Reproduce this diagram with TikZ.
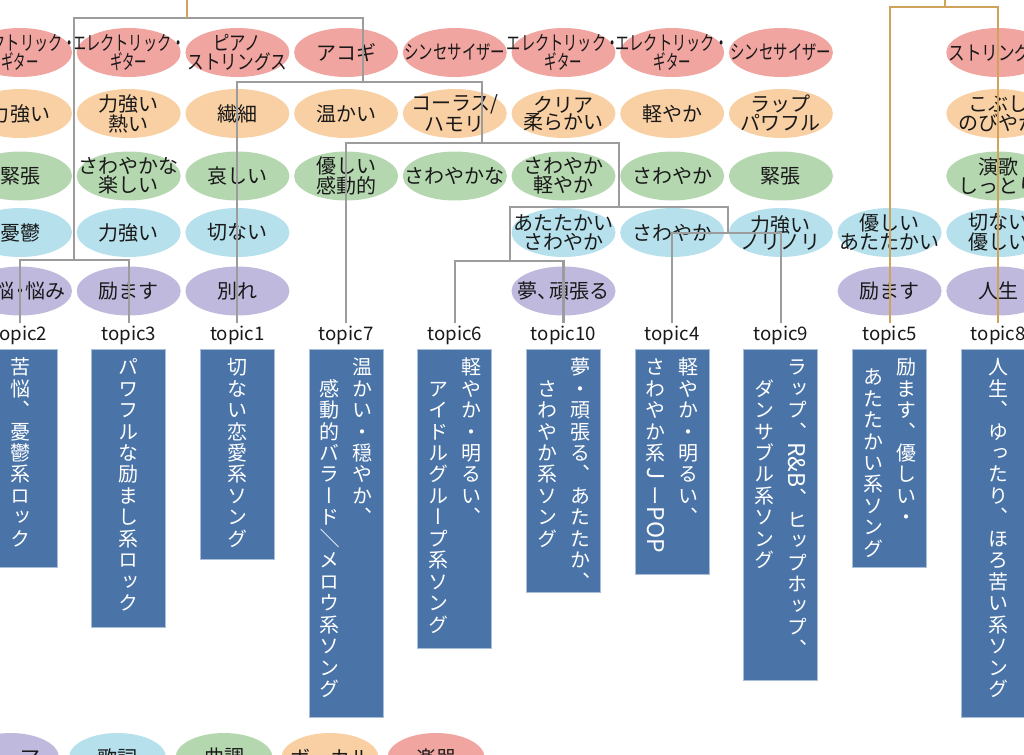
\documentclass[tikz,border=0pt]{standalone}
\usepackage{fontspec}
\usepackage{graphicx}
\setmainfont{Noto Sans CJK JP}
\newfontfamily\vfont[RawFeature=+vert]{Noto Sans CJK JP}
\usetikzlibrary{shapes.geometric}

\definecolor{cRed}{HTML}{F1A5A0}
\definecolor{cOra}{HTML}{F9D0A3}
\definecolor{cGrn}{HTML}{B4D7AF}
\definecolor{cBlu}{HTML}{B5E0EC}
\definecolor{cPur}{HTML}{BEB9DD}
\definecolor{cBox}{HTML}{4A74A8}
\definecolor{cBoxLine}{HTML}{A9BFD9}
\definecolor{cGray}{HTML}{9C9C9C}
\definecolor{cGold}{HTML}{CFA35C}

\makeatletter
\def\vt@end{\vt@end}
\def\vt@loop#1{\ifx\vt@end#1\else\vt@item{#1}\expandafter\vt@loop\fi}
\newcommand\vt@item[1]{\hbox to 16pt{\hss\vrule width0pt height13.75pt depth2.35pt\relax#1\hss}}
\newcommand\vcolumn[2][0pt]{\vtop{\offinterlineskip\hbox{\vrule width0pt height0pt depth0pt}\kern#1\relax\vt@loop#2\vt@end}}
\makeatother
\newcommand\rl[1]{\rotatebox[origin=c]{-90}{\scalebox{1.15}{#1}}}
\newcommand\rs[1]{\rotatebox[origin=c]{-90}{\normalfont #1}}
\newcommand\cz[2][0.72]{\scalebox{#1}[1]{#2}}
\newcommand\vgap{\hspace{8.75pt}}
\newcommand\E[5][ell]{\node[#1,fill=#2] (#3) at (#4) {}; \node[etx] (#3t) at (#3.center) {#5};}

\begin{document}
\begin{tikzpicture}[x=0.75pt,y=-0.75pt,
  ell/.style={ellipse, minimum width=78pt, minimum height=36.75pt, inner sep=0pt, draw=none},
  legell/.style={ell, minimum width=72.75pt},
  etx/.style={align=center, inner sep=0pt, font=\fontsize{15pt}{12.75pt}\selectfont, text=black!90},
  lab/.style={inner sep=1.5pt, font=\fontsize{14pt}{16pt}\selectfont, text=black!90},
  tbox/.style={rectangle, anchor=north, minimum width=55.5pt, fill=cBox, draw=cBoxLine, line width=0.75pt, inner sep=0pt, outer sep=0pt},
  vtx/.style={anchor=north, inner sep=0pt, text=white, font=\vfont\fontsize{15pt}{16pt}\selectfont},
  gl/.style={draw=cGray, line width=1.6pt},
  gd/.style={draw=cGold, line width=1.6pt}]
\useasboundingbox (0,0) rectangle (1024,754);
\clip (0,0) rectangle (1024,754);

% row 1 : instruments
\E{cRed}{a0}{20,52.5}{\cz[0.71]{エレクトリック・}\\\cz[0.62]{ギター}}
\E{cRed}{a1}{128.7,52.5}{\cz[0.71]{エレクトリック・}\\\cz[0.62]{ギター}}
\E{cRed}{a2}{237.4,52.5}{\cz[0.82]{ピアノ}\\\cz[0.83]{ストリングス}}
\E{cRed}{a3}{346.1,52.5}{アコギ}
\E{cRed}{a4}{454.8,52.5}{\cz{シンセサイザー}}
\E{cRed}{a5}{563.5,52.5}{\cz[0.71]{エレクトリック・}\\\cz[0.62]{ギター}}
\E{cRed}{a6}{672.2,52.5}{\cz[0.71]{エレクトリック・}\\\cz[0.62]{ギター}}
\E{cRed}{a7}{780.9,52.5}{\cz{シンセサイザー}}
\E{cRed}{a9}{998.3,52.5}{\cz[0.83]{ストリングス}}

% row 2 : vocals
\E{cOra}{b0}{20,113.5}{力強い}
\E{cOra}{b1}{128.7,113.5}{力強い\\熱い}
\E{cOra}{b2}{237.4,113.5}{繊細}
\E{cOra}{b3}{346.1,113.5}{温かい}
\E{cOra}{b4}{454.8,113.5}{コーラス/\\ハモリ}
\E{cOra}{b5}{563.5,113.5}{クリア\\柔らかい}
\E{cOra}{b6}{672.2,113.5}{軽やか}
\E{cOra}{b7}{780.9,113.5}{ラップ\\パワフル}
\E{cOra}{b9}{998.3,113.5}{こぶし\\のびやか}

% row 3 : tune
\E{cGrn}{g0}{20,176}{緊張}
\E{cGrn}{g1}{128.7,176}{さわやかな\\楽しい}
\E{cGrn}{g2}{237.4,176}{哀しい}
\E{cGrn}{g3}{346.1,176}{優しい\\感動的}
\E{cGrn}{g4}{454.8,176}{さわやかな}
\E{cGrn}{g5}{563.5,176}{さわやか\\軽やか}
\E{cGrn}{g6}{672.2,176}{さわやか}
\E{cGrn}{g7}{780.9,176}{緊張}
\E{cGrn}{g9}{998.3,176}{演歌\\しっとり}

% row 4 : lyrics
\E{cBlu}{l0}{20,232.5}{憂鬱}
\E{cBlu}{l1}{128.7,232.5}{力強い}
\E{cBlu}{l2}{237.4,232.5}{切ない}
\E{cBlu}{l5}{563.5,232.5}{あたたかい\\さわやか}
\E{cBlu}{l6}{672.2,232.5}{さわやか}
\E{cBlu}{l7}{780.9,232.5}{力強い\\ノリノリ}
\E{cBlu}{l8}{889.6,232.5}{優しい\\あたたかい}
\E{cBlu}{l9}{998.3,232.5}{切ない\\優しい}

% row 5 : theme
\E{cPur}{p0}{20,291}{苦悩\kern-0.25em・\kern-0.25em悩み}
\E{cPur}{p1}{128.7,291}{励ます}
\E{cPur}{p2}{237.4,291}{別れ}
\E{cPur}{p5}{563.5,291}{夢、\kern-0.4em頑張る}
\E{cPur}{p8}{889.6,291}{励ます}
\E{cPur}{p9}{998.3,291}{人生}

% topic labels
\node[lab] (t2)  at (20,335)    {topic2};
\node[lab] (t3)  at (128.7,335) {topic3};
\node[lab] (t1)  at (237.4,335) {topic1};
\node[lab] (t7)  at (346.1,335) {topic7};
\node[lab] (t6)  at (454.8,335) {topic6};
\node[lab] (t10) at (563.5,335) {topic10};
\node[lab] (t4)  at (672.2,335) {topic4};
\node[lab] (t9)  at (780.9,335) {topic9};
\node[lab] (t5)  at (889.6,335) {topic5};
\node[lab] (t8)  at (998.3,335) {topic8};

% topic boxes
\node[tbox, minimum height=163.5pt] (x2)  at (20,349)    {};
\node[tbox, minimum height=208.5pt] (x3)  at (128.7,349) {};
\node[tbox, minimum height=157.5pt] (x1)  at (237.4,349) {};
\node[tbox, minimum height=276pt]   (x7)  at (346.1,349) {};
\node[tbox, minimum height=224.25pt](x6)  at (454.8,349) {};
\node[tbox, minimum height=182.25pt](x10) at (563.5,349) {};
\node[tbox, minimum height=168.75pt](x4)  at (672.2,349) {};
\node[tbox, minimum height=248.25pt](x9)  at (780.9,349) {};
\node[tbox, minimum height=163.5pt] (x5)  at (889.6,349) {};
\node[tbox, minimum height=276pt]   (x8)  at (998.3,349) {};

\node[vtx] (v2)  at (20,356)    {\vcolumn{苦悩、憂鬱系ロック}};
\node[vtx] (v3)  at (128.7,356) {\vcolumn{パワフルな励まし系ロック}};
\node[vtx] (v1)  at (237.4,356) {\vcolumn{切ない恋愛系ソング}};
\node[vtx] (v7)  at (346.1,356) {\vcolumn{　感動的バラード{\rs{／}}メロウ系ソング}\vgap\vcolumn{温かい・穏やか、}};
\node[vtx] (v6)  at (454.8,356) {\vcolumn{　アイドルグループ系ソング}\vgap\vcolumn{軽やか・明るい、}};
\node[vtx] (v10) at (563.5,356) {\vcolumn{　さわやか系ソング}\vgap\vcolumn{夢・頑張る、あたたか、}};
\node[vtx] (v4)  at (672.2,356) {\vcolumn{さわやか系{\rl{J}}ー{\rl{POP}}}\vgap\vcolumn{軽やか・明るい、}};
\node[vtx] (v9)  at (780.9,356) {\vcolumn{　ダンサブル系ソング}\vgap\vcolumn{ラップ、{\rl{R\&B}}、ヒップホップ、}};
\node[vtx] (v5)  at (889.6,356) {\vcolumn[7.5pt]{あたたかい系ソング}\vgap\vcolumn{励ます、優しい・}};
\node[vtx] (v8)  at (998.3,356) {\vcolumn{人生、ゆったり、ほろ苦い系ソング}};

% legend (bottom, cut by the frame)
\E[legell]{cPur}{q0}{10.5,757.5}{テーマ}
\E[legell]{cBlu}{q1}{117.5,757.5}{歌詞}
\E[legell]{cGrn}{q2}{224,757.5}{曲調}
\E[legell]{cOra}{q3}{330,757.5}{ボーカル}
\E[legell]{cRed}{q4}{436,757.5}{楽器}

% dendrogram
\coordinate (m23) at (74,260);
\coordinate (mA)  at (187,18);
\coordinate (mB)  at (363,82);
\coordinate (mC)  at (482,143);
\coordinate (mD)  at (619,207);
\coordinate (mE)  at (510,261);
\coordinate (mF)  at (728,233);
\coordinate (mG)  at (945,7);
\coordinate (topA) at (187,-5);
\coordinate (topG) at (945,-5);

\draw[gl] (t2.north) |- (m23) -| (t3.north);
\draw[gl] (m23) |- (mA) -| (mB);
\draw[gl] (t1.north) |- (mB) -| (mC);
\draw[gl] (t7.north) |- (mC) -| (mD);
\draw[gl] (mE) |- (mD) -| (mF);
\draw[gl] (t6.north) |- (mE) -| (t10.north);
\draw[gl] (t4.north) |- (mF) -| (t9.north);
\draw[gd] (mA) -- (topA);
\draw[gd] (t5.north) |- (mG) -| (t8.north);
\draw[gd] (mG) -- (topG);
\end{tikzpicture}
\end{document}
